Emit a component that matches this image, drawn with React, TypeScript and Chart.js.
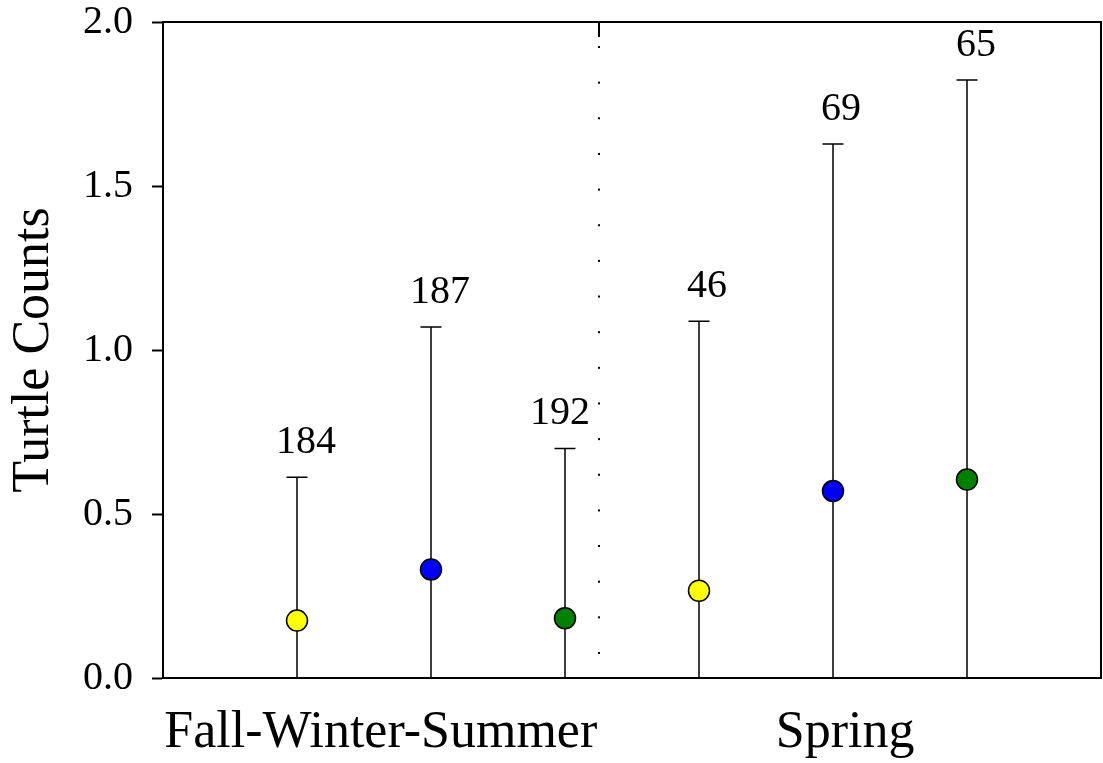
import { useEffect, useRef } from "react";
import { Chart, registerables } from "chart.js";

Chart.register(...registerables);

// Season groups and the three series plotted within each group
const categories = ["Fall-Winter-Summer", "Spring"];
const seriesColors = ["#ffff00", "#0000ff", "#008000"];

// Mean turtle counts (three series per season group)
const meanCounts = [0.175, 0.331, 0.182, 0.266, 0.57, 0.605];
// Upper end of each error bar
const upperLimits = [0.612, 1.07, 0.7, 1.088, 1.628, 1.823];
// Number of samples printed above each bar
const sampleSizes = [184, 187, 192, 46, 69, 65];
// Y-axis tick values
const yTicks = [0, 0.5, 1.0, 1.5, 2.0];

const FONT = '"Liberation Serif", "Times New Roman", serif';

// Horizontal anchors (x-scale units) for group captions and the divider
const groupLabelAnchors = [1.625, 5.09];
const dividerAt = 3.25;
// Small horizontal nudges for the sample-size labels (px)
const labelNudge = [9, 9, -5, 8, 8, 9];

const decorPlugin = {
  id: "decor",
  beforeDatasetsDraw(chart: any) {
    const { ctx, scales } = chart;
    const xs = scales.x;
    const ys = scales.y;
    ctx.save();
    ctx.strokeStyle = "#000";
    ctx.lineWidth = 1.5;
    upperLimits.forEach((u, i) => {
      const x = xs.getPixelForValue(i + 1);
      const yTop = ys.getPixelForValue(u);
      const yBot = ys.getPixelForValue(0);
      ctx.beginPath();
      ctx.moveTo(x, yBot);
      ctx.lineTo(x, yTop);
      ctx.moveTo(x - 10.5, yTop);
      ctx.lineTo(x + 10.5, yTop);
      ctx.stroke();
    });
    ctx.restore();
  },
  afterDraw(chart: any) {
    const { ctx, chartArea, scales } = chart;
    const xs = scales.x;
    const ys = scales.y;
    const { left, top, right, bottom } = chartArea;
    ctx.save();

    // frame
    ctx.strokeStyle = "#000";
    ctx.lineWidth = 2;
    ctx.strokeRect(left, top, right - left, bottom - top);

    // dotted divider between the season groups
    const dx = Math.round(xs.getPixelForValue(dividerAt));
    ctx.beginPath();
    ctx.moveTo(dx, top);
    ctx.lineTo(dx, top + 15);
    ctx.stroke();
    ctx.fillStyle = "#000";
    const nDots = 18;
    const y0 = top + 25;
    const y1 = bottom - 25;
    for (let k = 0; k < nDots; k++) {
      const y = y0 + ((y1 - y0) * k) / (nDots - 1);
      ctx.fillRect(dx - 1, y - 1, 2, 2);
    }

    // sample sizes above bars
    ctx.font = `40px ${FONT}`;
    ctx.textAlign = "center";
    ctx.textBaseline = "alphabetic";
    sampleSizes.forEach((n, i) => {
      const x = xs.getPixelForValue(i + 1) + labelNudge[i];
      const y = ys.getPixelForValue(upperLimits[i]) - 24;
      ctx.fillText(String(n), x, y);
    });

    // group captions
    ctx.font = `52px ${FONT}`;
    categories.forEach((c, i) => {
      ctx.fillText(c, xs.getPixelForValue(groupLabelAnchors[i]), 747);
    });

    // y-axis title
    ctx.translate(48, (top + bottom) / 2);
    ctx.rotate(-Math.PI / 2);
    ctx.fillText("Turtle Counts", 0, 0);
    ctx.restore();
  },
};

export default function App() {
  const canvasRef = useRef<HTMLCanvasElement | null>(null);

  useEffect(() => {
    document.body.style.margin = "0";
    const canvas = canvasRef.current;
    if (!canvas) return;
    const chart = new Chart(canvas, {
      type: "scatter",
      data: {
        datasets: [
          {
            data: meanCounts.map((y, i) => ({ x: i + 1, y })),
            backgroundColor: meanCounts.map((_, i) => seriesColors[i % 3]),
            borderColor: "#000",
            borderWidth: 1.5,
            pointRadius: 10.5,
            pointHoverRadius: 10.5,
            showLine: false,
          },
        ],
      },
      options: {
        animation: false,
        responsive: false,
        maintainAspectRatio: false,
        events: [],
        layout: {
          autoPadding: false,
          padding: { top: 22, right: 2, bottom: 85, left: 0 },
        },
        plugins: {
          legend: { display: false },
          tooltip: { enabled: false },
        },
        scales: {
          x: {
            type: "linear",
            min: 0,
            max: 7,
            display: false,
          },
          y: {
            type: "linear",
            min: 0,
            max: 2,
            afterFit(scale: any) {
              scale.width = 163;
              scale.paddingTop = 0;
              scale.paddingBottom = 0;
            },
            afterBuildTicks(scale: any) {
              scale.ticks = yTicks.map((v) => ({ value: v }));
            },
            ticks: {
              color: "#000",
              padding: 19,
              font: { family: FONT, size: 40, lineHeight: 1 },
              callback: (v: any) => Number(v).toFixed(1),
            },
            grid: {
              display: true,
              drawOnChartArea: false,
              drawTicks: true,
              tickLength: 11,
              tickWidth: 2,
              tickColor: "#000",
              color: "#000",
            },
            border: { display: true, color: "#000", width: 2 },
          },
        },
      },
      plugins: [decorPlugin],
    });
    return () => chart.destroy();
  }, []);

  return (
    <canvas
      ref={canvasRef}
      width={1103}
      height={763}
      style={{ display: "block", width: 1103, height: 763 }}
    />
  );
}
